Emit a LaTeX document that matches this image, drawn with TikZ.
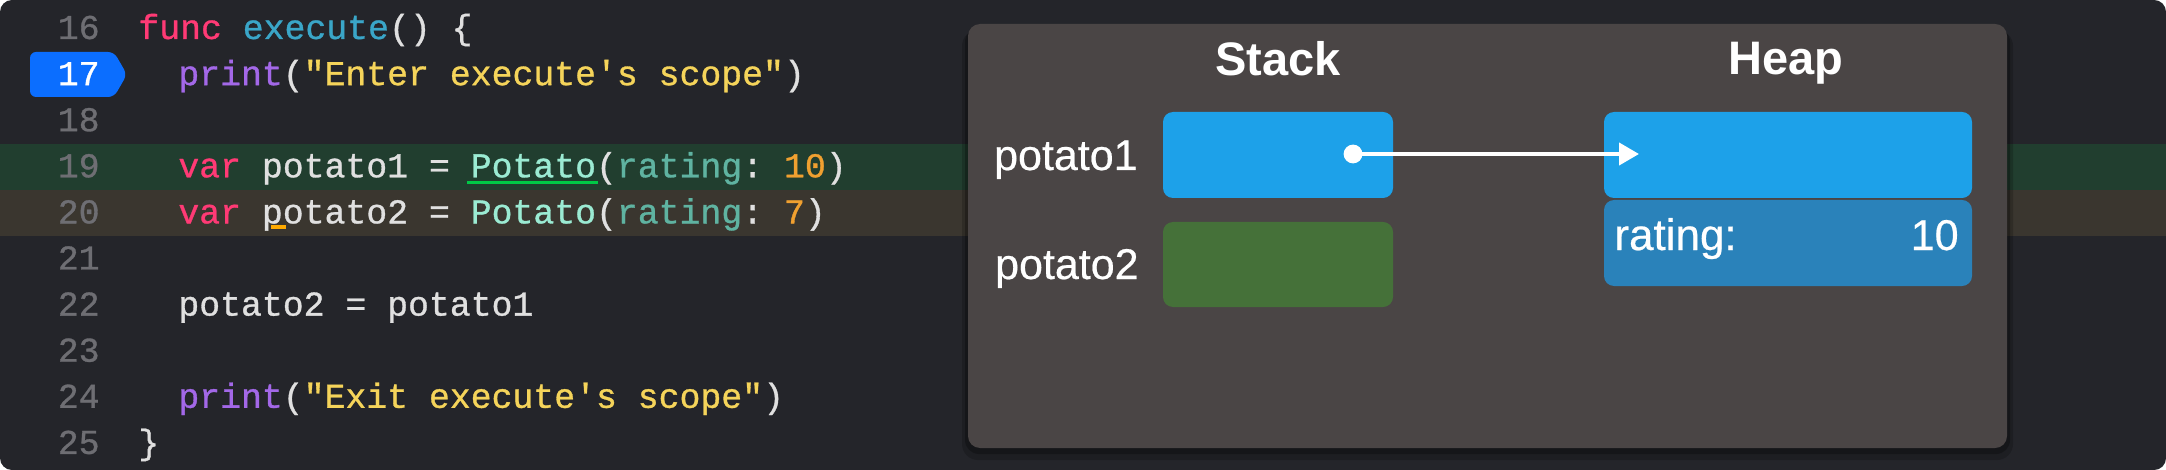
\documentclass[tikz,border=0pt]{standalone}
\usepackage{fontspec}
\setmainfont{Liberation Sans}
\setmonofont{Liberation Mono}[FakeBold=0.9]
\newfontfamily\labfont{Liberation Sans}[FakeBold=0.5]
\usetikzlibrary{arrows.meta}
\definecolor{bg}{RGB}{36,37,42}
\definecolor{band19}{RGB}{33,62,47}
\definecolor{band20}{RGB}{58,54,47}
\definecolor{panel}{RGB}{74,69,69}
\definecolor{kw}{RGB}{255,58,117}
\definecolor{fn}{RGB}{58,166,200}
\definecolor{callc}{RGB}{163,104,232}
\definecolor{strc}{RGB}{245,212,90}
\definecolor{typec}{RGB}{155,235,211}
\definecolor{argc}{RGB}{95,179,161}
\definecolor{numc}{RGB}{240,160,48}
\definecolor{plain}{RGB}{224,224,224}
\definecolor{lnumc}{RGB}{110,110,115}
\definecolor{badge}{RGB}{11,110,255}
\definecolor{boxblue}{RGB}{29,161,233}
\definecolor{boxdeep}{RGB}{42,130,186}
\definecolor{boxgreen}{RGB}{69,113,57}
\definecolor{ulgreen}{RGB}{0,200,70}
\definecolor{ulorange}{RGB}{255,170,0}
\begin{document}
\frenchspacing
\begin{tikzpicture}[x=0.5pt,y=-0.5pt,
  code/.style={anchor=base west,inner sep=0pt,text=plain,font=\ttfamily\fontsize{17.4}{20}\selectfont},
  lnum/.style={anchor=base east,inner sep=0pt,text=lnumc,font=\ttfamily\fontsize{17.4}{20}\selectfont},
  title/.style={anchor=base,inner sep=0pt,text=white,font=\bfseries\fontsize{23.5}{28}\selectfont},
  lab/.style={inner sep=0pt,text=white,font=\labfont\fontsize{21.5}{26}\selectfont},
  membox/.style={rounded corners=5pt,inner sep=0pt,minimum width=115pt,minimum height=43pt}]
\useasboundingbox (0,0) rectangle (2166,470);
\fill[white] (0,0) rectangle (2166,470);
\fill[bg,rounded corners=6pt] (0,0) rectangle (2166,470);
\fill[band19] (0,144) rectangle (2166,190);
\fill[band20] (0,190) rectangle (2166,236);
% line numbers
\fill[badge,rounded corners=3pt] (30,52) -- (114,52) -- (127,74.5) -- (114,97) -- (30,97) -- cycle;
\node[lnum] (n16) at (100,39) {16};
\node[lnum,text=white] (n17) at (100,85.1) {17};
\node[lnum] (n18) at (100,131.2) {18};
\node[lnum] (n19) at (100,177.3) {19};
\node[lnum] (n20) at (100,223.4) {20};
\node[lnum] (n21) at (100,269.5) {21};
\node[lnum] (n22) at (100,315.6) {22};
\node[lnum] (n23) at (100,361.7) {23};
\node[lnum] (n24) at (100,407.8) {24};
\node[lnum] (n25) at (100,453.9) {25};
% code
\node[code] (c16) at (138,39) {\textcolor{kw}{func} \textcolor{fn}{execute}() \{};
\node[code] (c17) at (178,85.1) {\textcolor{callc}{print}(\textcolor{strc}{"Enter execute's scope"})};
\node[code] (c19) at (178,177.3) {\textcolor{kw}{var} potato1 = \textcolor{typec}{Potato}(\textcolor{argc}{rating}: \textcolor{numc}{10})};
\node[code] (c20) at (178,223.4) {\textcolor{kw}{var} potato2 = \textcolor{typec}{Potato}(\textcolor{argc}{rating}: \textcolor{numc}{7})};
\node[code] (c22) at (178,315.6) {potato2 = potato1};
\node[code] (c24) at (178,407.8) {\textcolor{callc}{print}(\textcolor{strc}{"Exit execute's scope"})};
\node[code] (c25) at (138,453.9) {\}};
\fill[ulgreen] (467,181) rectangle (598,184.5);
\fill[ulorange] (271,225.5) rectangle (286,229);
% panel
\fill[black,opacity=0.18,rounded corners=8pt] (962,30) rectangle (2013,460);
\fill[black,opacity=0.25,rounded corners=7pt] (965,28) rectangle (2010,454);
\fill[panel,rounded corners=6pt] (968,24) rectangle (2007,448);
\node[title] (stack) at (1278,76) {Stack};
\node[title] (heap) at (1786,75) {Heap};
\node[membox,fill=boxblue] (p1) at (1278,155) {};
\node[membox,fill=boxgreen,minimum height=42.5pt] (p2) at (1278,264.5) {};
\node[membox,fill=boxblue,minimum width=184pt] (h1) at (1788,155) {};
\node[membox,fill=boxdeep,minimum width=184pt] (h2) at (1788,243) {};
\node[lab,anchor=base east] (l1) at (1138,170) {potato1};
\node[lab,anchor=base east] (l2) at (1139,279) {potato2};
\node[lab,anchor=base west,font=\labfont\fontsize{22}{26}\selectfont] (rt) at (1614,250) {rating:};
\node[lab,anchor=base east] (rv) at (1959,250) {10};
\coordinate (dot) at (1353,154);
\coordinate (tip) at (1639,154);
\fill[white] (dot) circle (4.7pt);
\draw[white,line width=2pt,-{Triangle[length=10pt,width=11pt]}] (dot) -- (tip);
\end{tikzpicture}
\end{document}
